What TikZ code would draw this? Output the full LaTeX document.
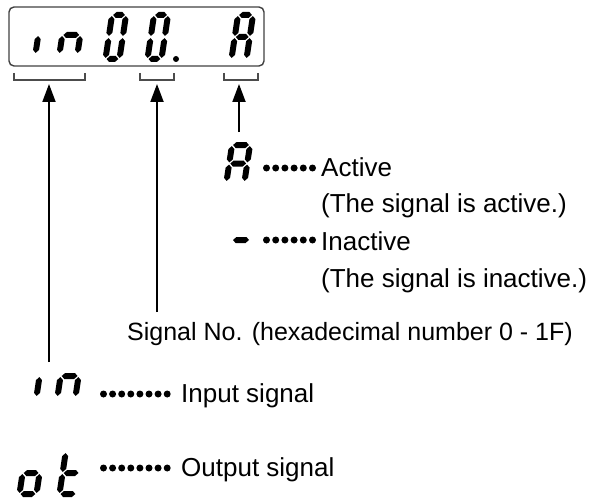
\documentclass[tikz,border=0pt]{standalone}
\usepackage{fontspec}
\setmainfont{Liberation Sans}
\usetikzlibrary{arrows.meta}
\def\sgT{3.0}
\def\sgG{1.1}
\newcommand\hsg[3]{\fill (#1,#3) -- (#1+\sgT,#3+\sgT) -- (#2-\sgT,#3+\sgT) -- (#2,#3) -- (#2-\sgT,#3-\sgT) -- (#1+\sgT,#3-\sgT) -- cycle;}
\newcommand\vsg[3]{\fill (#1,#2) -- (#1+\sgT,#2+\sgT) -- (#1+\sgT,#3-\sgT) -- (#1,#3) -- (#1-\sgT,#3-\sgT) -- (#1-\sgT,#2+\sgT) -- cycle;}
\def\dsega{\hsg{\sgT+\sgG}{\dW-\sgT-\sgG}{\dH-\sgT}}
\def\dsegb{\vsg{\dW-\sgT}{\dH/2+\sgG}{\dH-\sgT-\sgG}}
\def\dsegc{\vsg{\dW-\sgT}{\sgT+\sgG}{\dH/2-\sgG}}
\def\dsegd{\hsg{\sgT+\sgG}{\dW-\sgT-\sgG}{\sgT}}
\def\dsege{\vsg{\sgT}{\sgT+\sgG}{\dH/2-\sgG}}
\def\dsegf{\vsg{\sgT}{\dH/2+\sgG}{\dH-\sgT-\sgG}}
\def\dsegg{\hsg{\sgT+\sgG}{\dW-\sgT-\sgG}{\dH/2}}
\newcommand\sevseg[5]{%
  \begin{scope}[shift={(#1,#2)},xslant=0.15,yscale=-1]
    \def\dW{#3}\def\dH{#4}%
    \foreach \s in {#5}{\csname dseg\s\endcsname}
  \end{scope}}
\newcommand\dotrow[4]{% x0, y, count, step
  \foreach \k in {1,...,#3}{\fill ({#1+(\k-1)*#4},#2) circle[radius=3.5pt];}}
\tikzset{
  boxline/.style={draw=black!75, line width=1.4, rounded corners=5},
  brk/.style={draw=black!70, line width=1.3},
  arr/.style={line width=2, -{Triangle[length=18,width=13]}},
  lbl/.style={anchor=base west, inner sep=0, font=\fontsize{26}{30}\selectfont},
  lbls/.style={anchor=base west, inner sep=0, font=\fontsize{25}{28}\selectfont}
}
\begin{document}
\begin{tikzpicture}[x=1pt,y=-1pt]
\useasboundingbox (0,0) rectangle (591,500);
% display
\draw[boxline] (9,7) rectangle (264,66);
\sevseg{32}{57}{21}{44}{e}
\sevseg{56}{57}{24}{44}{c,e,g}
\sevseg{102}{62}{20}{50}{a,b,c,d,e,f}
\sevseg{144}{62}{20}{50}{a,b,c,d,e,f}
\fill (176,59) circle[radius=3pt];
\sevseg{228}{62}{21}{50}{a,b,c,e,f,g}
% brackets
\draw[brk] (14,73) -- (14,80) -- (85,80) -- (85,73);
\draw[brk] (140,73) -- (140,80) -- (174,80) -- (174,73);
\draw[brk] (224,73) -- (224,80) -- (258,80) -- (258,73);
\coordinate (tipL) at (49,84);
\coordinate (tipM) at (157,84);
\coordinate (tipR) at (239,84);
\coordinate (endL) at (49,362);
\coordinate (endM) at (157,312);
\coordinate (endR) at (239,132);
\draw[arr] (endL) -- (tipL);
\draw[arr] (endM) -- (tipM);
\draw[arr] (endR) -- (tipR);
% legend A / -
\sevseg{223}{185}{24}{43}{a,b,c,e,f,g}
\dotrow{266.5}{168}{6}{9.2}
\node[lbl] (act) at (321,176.5) {Active};
\node[lbl] (actd) at (321,212) {(The signal is active.)};
\begin{scope}[shift={(233,240)},xslant=0.15,yscale=-1]
\hsg{0}{16}{0}
\end{scope}
\dotrow{266.5}{240}{6}{9.2}
\node[lbl] (ina) at (321,250) {Inactive};
\node[lbl] (inad) at (321,287) {(The signal is inactive.)};
% signal no
\node[lbls] (sno) at (127,340) {Signal No. (hexadecimal number 0 - 1F)};
% in
\sevseg{33}{400}{21}{48}{e}
\sevseg{54}{400}{24}{48}{c,e,g}
\dotrow{103.5}{394}{8}{9.1}
\node[lbl] (inp) at (181,402) {Input signal};
% ot
\sevseg{16}{497}{23}{48}{c,d,e,g}
\sevseg{56}{497}{23}{48}{d,e,f,g}
\dotrow{103.5}{468}{8}{9.1}
\node[lbl] (outp) at (181,476) {Output signal};
\end{tikzpicture}
\end{document}
